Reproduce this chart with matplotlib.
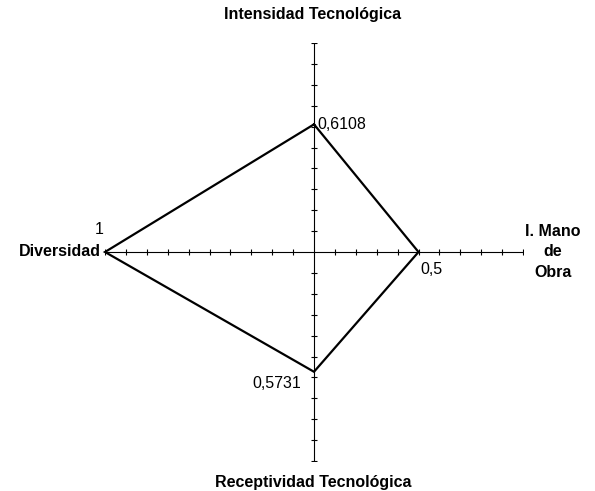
import numpy as np
import matplotlib
matplotlib.use('Agg')
from matplotlib import pyplot as plt

plt.rcParams['font.family'] = ['Liberation Sans', 'DejaVu Sans']

# datos del diagrama (valor de cada eje)
ejes = ['Intensidad Tecnológica', 'I. Mano\nde\nObra', 'Receptividad Tecnológica', 'Diversidad']
valores = [0.6108, 0.5, 0.5731, 1.0]
etiquetas = ['0,6108', '0,5', '0,5731', '1']

# direccion de cada eje: arriba, derecha, abajo, izquierda
dx = np.array([0, 1, 0, -1])
dy = np.array([1, 0, -1, 0])

W, H = 595, 491
fig = plt.figure(figsize=(W / 100, H / 100), dpi=100)
ax = fig.add_axes([105 / W, 1 - 461 / H, 418 / W, 418 / H])
ax.set_xlim(-1, 1)
ax.set_ylim(-1, 1)
ax.axis('off')

# ejes en cruz
ax.plot([-1, 1], [0, 0], color='black', lw=0.8)
ax.plot([0, 0], [-1, 1], color='black', lw=0.8)
marcas = np.round(np.arange(-1, 1.01, 0.1), 2)
marcas = marcas[marcas != 0]
ax.plot(marcas, np.zeros_like(marcas), ls='none', marker='|', ms=5, mew=0.8, color='black')
ax.plot(np.zeros_like(marcas), marcas, ls='none', marker='_', ms=5, mew=0.8, color='black')

# poligono
px = np.array(valores) * dx
py = np.array(valores) * dy
ax.plot(np.append(px, px[0]), np.append(py, py[0]), color='black', lw=1.6,
        solid_joinstyle='miter', clip_on=False)

fs = 11.5
# etiquetas de valores (posicion en pixeles de la figura)
def txt(x, y, s, **kw):
    fig.text(x / W, 1 - y / H, s, fontsize=fs, **kw)

txt(317, 125, etiquetas[0], ha='left', va='center')
txt(420, 270, etiquetas[1], ha='left', va='center')
txt(301, 383, etiquetas[2], ha='right', va='center')
txt(99, 229, etiquetas[3], ha='center', va='center')

# nombres de los ejes
txt(313, 15, ejes[0], fontweight='bold', ha='center', va='center')
txt(553, 252, ejes[1], fontweight='bold', ha='center', va='center', linespacing=1.45)
txt(313, 483, ejes[2], fontweight='bold', ha='center', va='center')
txt(101, 252, ejes[3], fontweight='bold', ha='right', va='center')

fig.savefig('out.png', dpi=100)
